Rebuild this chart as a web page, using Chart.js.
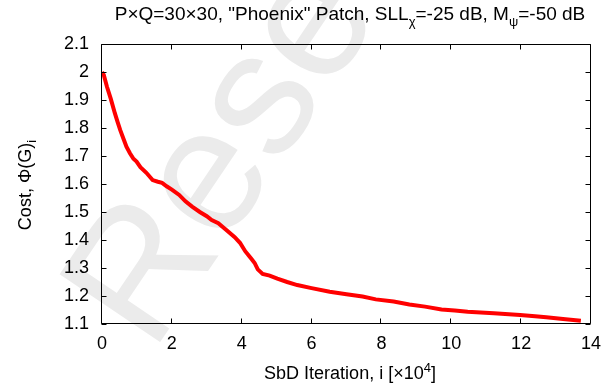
<!DOCTYPE html>
<html>
<head>
<meta charset="utf-8">
<script src="https://cdn.jsdelivr.net/npm/chart.js@4"></script>
<style>
  html, body { margin: 0; padding: 0; background: #fff; }
  #c { display: block; }
</style>
</head>
<body>
<canvas id="c" width="610" height="387"></canvas>
<script>
// ========================
// DATA
// ========================
const ITER = [0, 0.05, 0.14, 0.25, 0.37, 0.45, 0.52, 0.62, 0.7, 0.8, 0.9, 0.99, 1.1, 1.27, 1.45, 1.6, 1.72,
  1.85, 2.0, 2.21, 2.39, 2.58, 2.8, 3.0, 3.14, 3.33, 3.5, 3.61, 3.8, 3.95, 4.1, 4.2, 4.27, 4.37, 4.46, 4.6,
  4.8, 5.02, 5.3, 5.59, 6.0, 6.52, 7.0, 7.46, 7.84, 8.35, 8.8, 9.25, 9.72, 10.1, 10.47, 11.22, 11.97, 12.4,
  12.72, 13.2, 13.71];
const COST = [2.0, 1.99, 1.948, 1.905, 1.852, 1.82, 1.793, 1.76, 1.733, 1.71, 1.69, 1.68, 1.66, 1.64, 1.614,
  1.608, 1.604, 1.592, 1.58, 1.561, 1.538, 1.519, 1.5, 1.485, 1.471, 1.46, 1.442, 1.43, 1.41, 1.39, 1.36,
  1.345, 1.334, 1.318, 1.295, 1.279, 1.273, 1.262, 1.25, 1.239, 1.228, 1.215, 1.206, 1.198, 1.188, 1.18,
  1.17, 1.162, 1.152, 1.148, 1.144, 1.138, 1.132, 1.128, 1.124, 1.118, 1.112];
const X_TICKS = [0, 2, 4, 6, 8, 10, 12, 14];
const Y_TICKS = [1.1, 1.2, 1.3, 1.4, 1.5, 1.6, 1.7, 1.8, 1.9, 2.0, 2.1];

const FONT = '"Liberation Sans", Arial, Helvetica, sans-serif';

// text with sub/superscripts : parts = [[text, 'n'|'sub'|'sup'], ...]
function richWidth(ctx, parts, size) {
  let w = 0;
  parts.forEach(([t, k]) => {
    ctx.font = (k === 'n' ? size : Math.round(size * 0.7)) + 'px ' + FONT;
    w += ctx.measureText(t).width;
  });
  return w;
}
function drawRich(ctx, parts, cx, y, size) {
  let x = cx - richWidth(ctx, parts, size) / 2;
  ctx.textAlign = 'left';
  ctx.textBaseline = 'alphabetic';
  parts.forEach(([t, k]) => {
    const s = k === 'n' ? size : Math.round(size * 0.7);
    ctx.font = s + 'px ' + FONT;
    const dy = k === 'sub' ? size * 0.3 : k === 'sup' ? -size * 0.4 : 0;
    ctx.fillText(t, x, y + dy);
    x += ctx.measureText(t).width;
  });
}

const watermark = {
  id: 'watermark',
  beforeDraw(chart) {
    const ctx = chart.ctx;
    ctx.save();
    ctx.translate(152, 354);
    ctx.rotate(-56 * Math.PI / 180);
    ctx.fillStyle = '#ebebeb';
    ctx.font = '176px ' + FONT;
    ctx.textBaseline = 'alphabetic';
    ctx.fillText('Rese', 0, 0);
    ctx.restore();
  }
};

const frame = {
  id: 'frame',
  afterDraw(chart) {
    const ctx = chart.ctx, a = chart.chartArea;
    const xs = chart.scales.x, ys = chart.scales.y;
    const L = Math.round(a.left) - 0.5, R = Math.round(a.right) - 0.5;
    const T = Math.round(a.top) + 0.5, B = Math.round(a.bottom) - 0.5;
    ctx.save();
    ctx.strokeStyle = '#000';
    ctx.lineWidth = 1;
    ctx.beginPath();
    X_TICKS.forEach(v => {
      const px = Math.round(xs.getPixelForValue(v)) - 0.5;
      ctx.moveTo(px, B); ctx.lineTo(px, B - 5);
      ctx.moveTo(px, T); ctx.lineTo(px, T + 5);
    });
    Y_TICKS.forEach(v => {
      const py = Math.round(ys.getPixelForValue(v)) + 0.5;
      ctx.moveTo(L, py); ctx.lineTo(L + 5, py);
      ctx.moveTo(R, py); ctx.lineTo(R - 5, py);
    });
    ctx.rect(L, T, R - L, B - T);
    ctx.stroke();

    ctx.fillStyle = '#000';
    drawRich(ctx, [['P×Q=30×30, "Phoenix" Patch, SLL', 'n'], ['χ', 'sub'], ['=-25 dB, M', 'n'], ['ψ', 'sub'], ['=-50 dB', 'n']], 350, 20, 19);
    drawRich(ctx, [['SbD Iteration, i [×10', 'n'], ['4', 'sup'], [']', 'n']], 350, 379, 18);
    ctx.translate(31, 185);
    ctx.rotate(-Math.PI / 2);
    drawRich(ctx, [['Cost, Φ(G)', 'n'], ['i', 'sub']], 0, 0, 18);
    ctx.restore();
  }
};

new Chart(document.getElementById('c'), {
  type: 'line',
  data: {
    datasets: [{
      data: ITER.map((x, k) => ({ x: x, y: COST[k] })),
      borderColor: '#ff0000',
      borderWidth: 4,
      pointRadius: 0,
      tension: 0,
      fill: false
    }]
  },
  options: {
    responsive: false,
    animation: false,
    devicePixelRatio: 1,
    layout: { padding: { top: 44, right: 12, left: 0, bottom: 0 } },
    plugins: { legend: { display: false }, tooltip: { enabled: false }, title: { display: false } },
    scales: {
      x: {
        type: 'linear', min: 0, max: 14,
        afterFit: s => { s.height = 63; },
        afterBuildTicks: s => { s.ticks = X_TICKS.map(v => ({ value: v })); },
        grid: { display: false, drawTicks: false },
        border: { display: false },
        ticks: { padding: 9, color: '#000', font: { family: FONT, size: 18 }, maxRotation: 0, autoSkip: false }
      },
      y: {
        type: 'linear', min: 1.1, max: 2.1,
        afterFit: s => { s.width = 102; },
        afterBuildTicks: s => { s.ticks = Y_TICKS.map(v => ({ value: v })); },
        grid: { display: false, drawTicks: false },
        border: { display: false },
        ticks: { padding: 13, color: '#000', font: { family: FONT, size: 18 }, autoSkip: false,
          callback: v => String(+v.toFixed(1)) }
      }
    }
  },
  plugins: [watermark, frame]
});
</script>
</body>
</html>
